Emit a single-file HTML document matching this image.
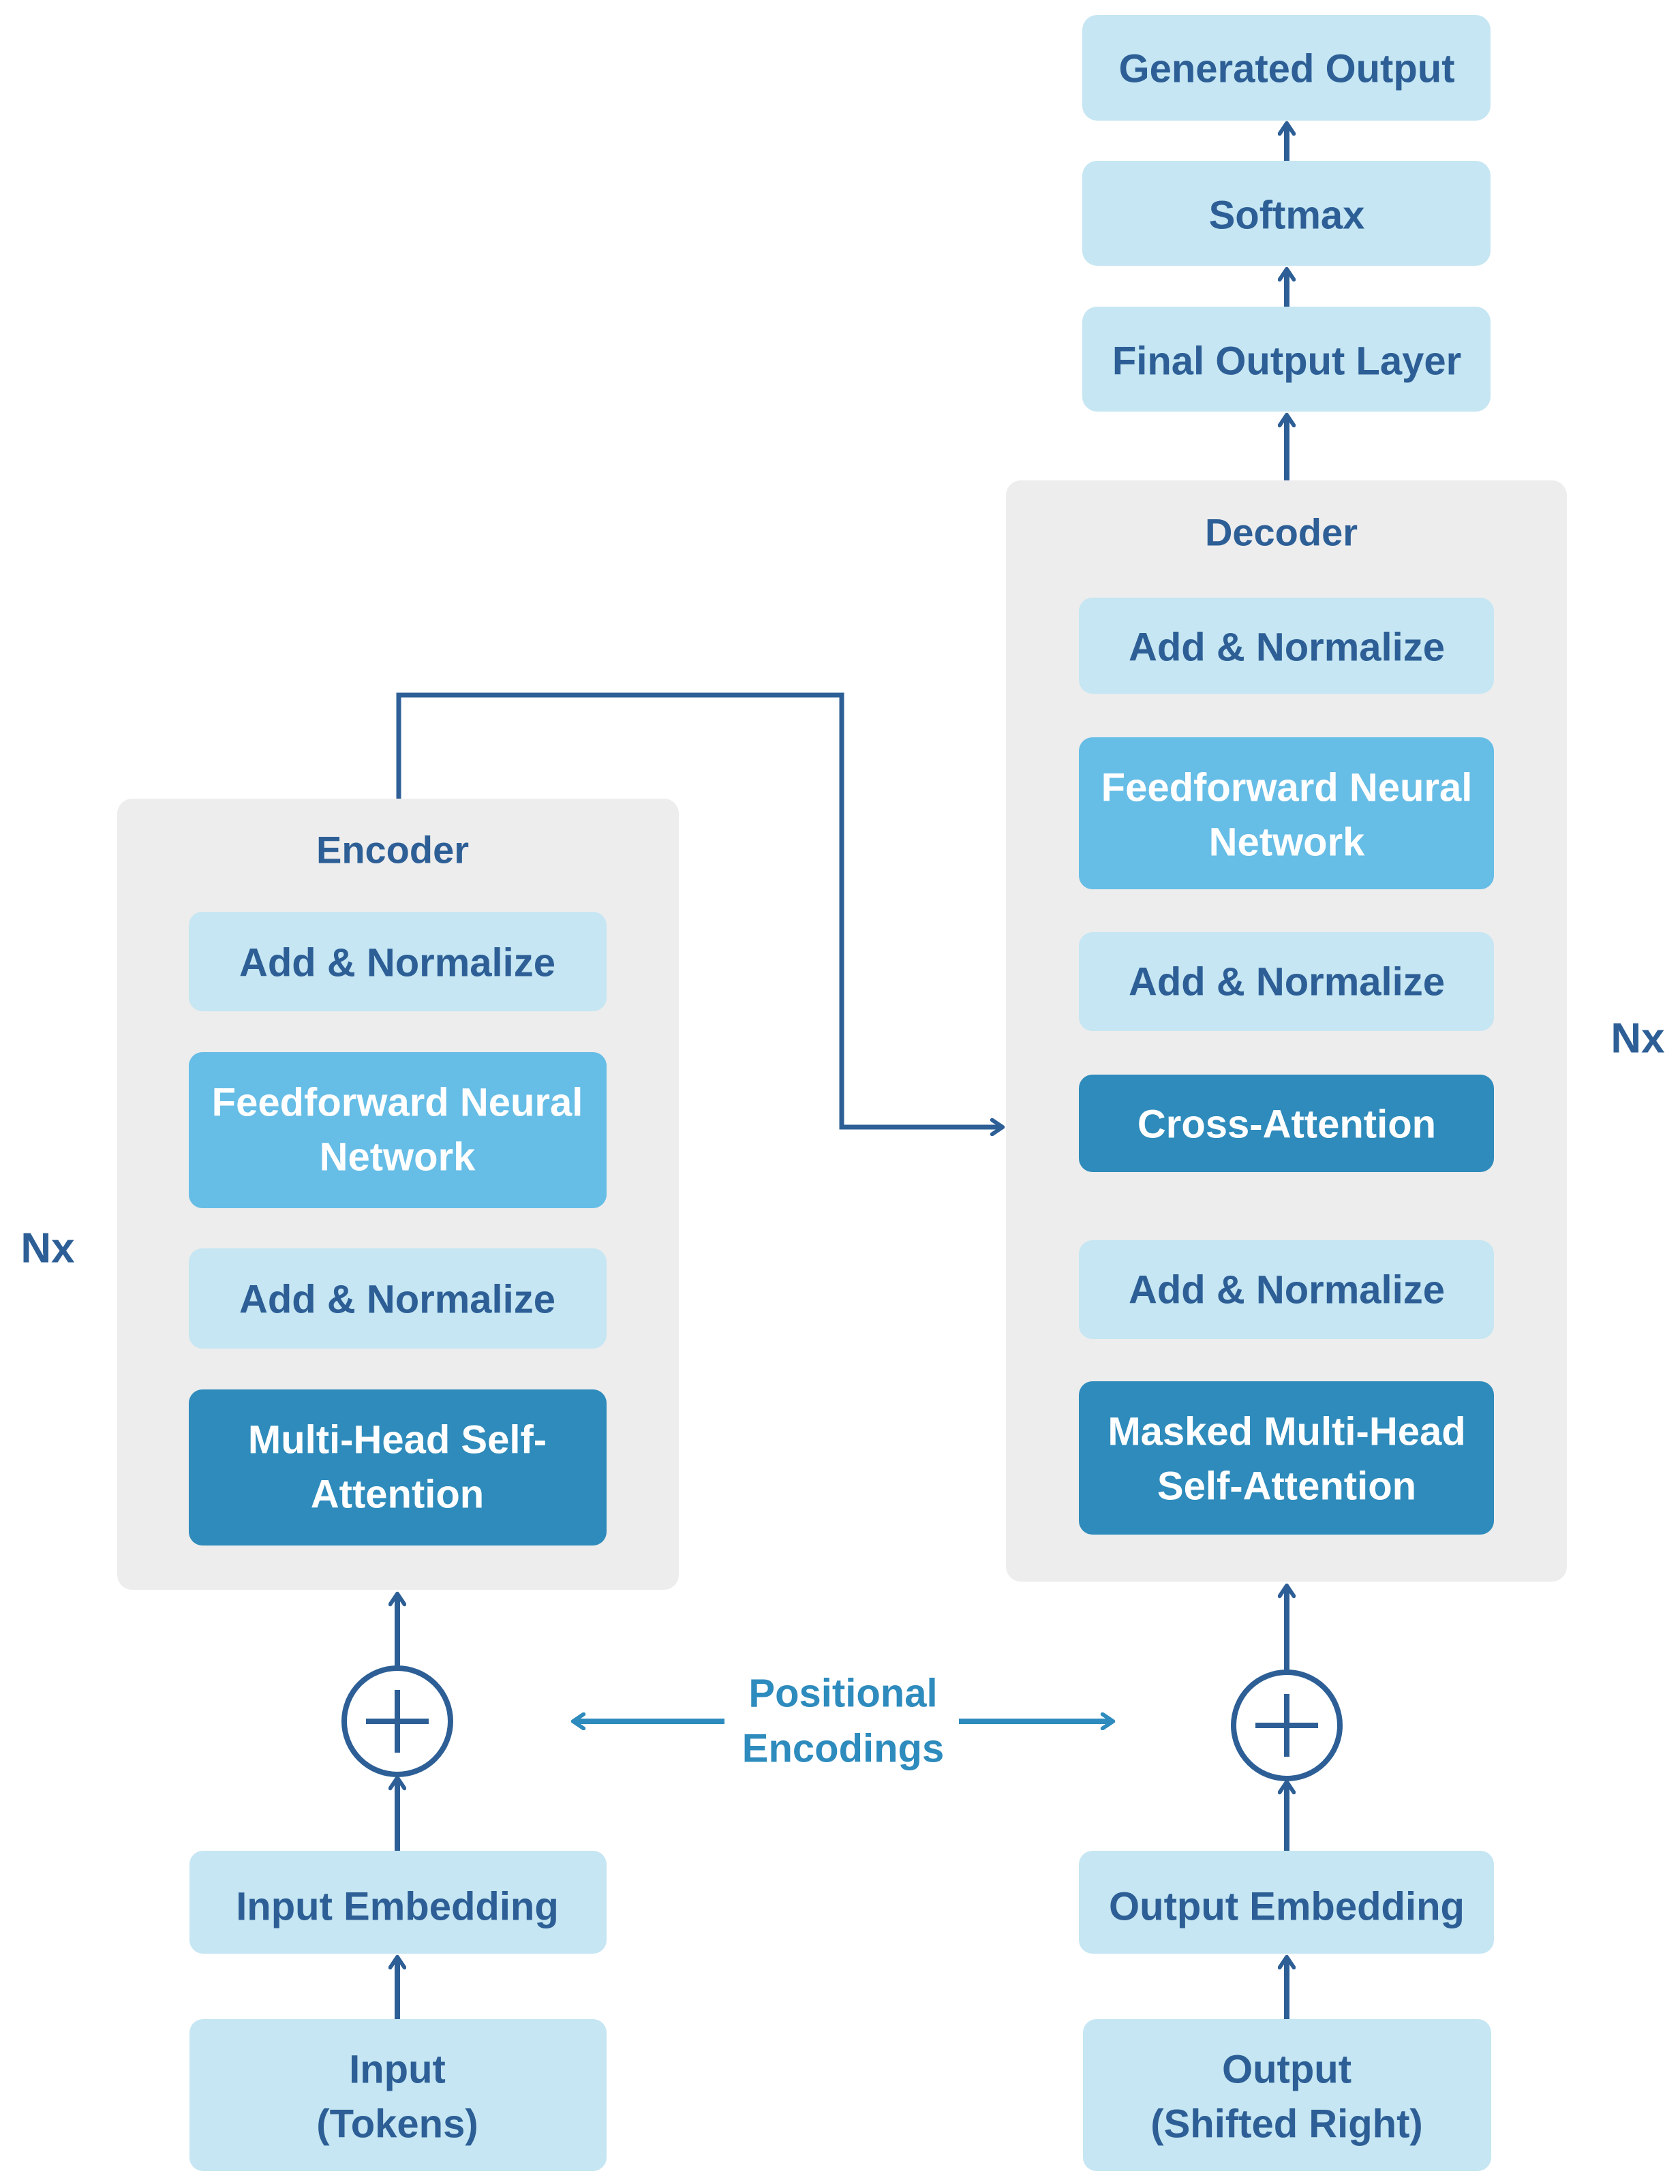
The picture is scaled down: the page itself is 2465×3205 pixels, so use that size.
<!DOCTYPE html>
<html><head><meta charset="utf-8"><style>
html,body{margin:0;padding:0;background:#fff}
svg{display:block}
text{font-family:"Liberation Sans",sans-serif;font-weight:bold;text-anchor:middle;dominant-baseline:central}
.d{fill:#2d5f96}.w{fill:#fff}
</style></head><body>
<svg width="2465" height="3205" viewBox="0 0 2465 3205" xmlns="http://www.w3.org/2000/svg">
<defs>
<marker id="ah" viewBox="0 0 20 20" refX="14" refY="10" markerWidth="26" markerHeight="26" markerUnits="userSpaceOnUse" orient="auto">
<path d="M3,2 L15,10 L3,18" fill="none" stroke="#2d5f96" stroke-width="4.5" stroke-linecap="round" stroke-linejoin="round"/></marker>
<marker id="ah2" viewBox="0 0 20 20" refX="14" refY="10" markerWidth="26" markerHeight="26" markerUnits="userSpaceOnUse" orient="auto">
<path d="M3,2 L15,10 L3,18" fill="none" stroke="#2e8bbd" stroke-width="4.5" stroke-linecap="round" stroke-linejoin="round"/></marker>
</defs>
<rect x="172" y="1172" width="824" height="1161" rx="22" fill="#ededed"/>
<rect x="1476" y="705" width="823" height="1616" rx="22" fill="#ededed"/>
<text x="576" y="1247" class="d" font-size="56">Encoder</text>
<text x="1880" y="781" class="d" font-size="56">Decoder</text>
<rect x="1588" y="22" width="599" height="155" rx="22" fill="#c5e6f2"/>
<text x="1888" y="101" class="d" font-size="58">Generated Output</text>
<rect x="1588" y="236" width="599" height="154" rx="22" fill="#c5e6f2"/>
<text x="1888" y="316" class="d" font-size="58">Softmax</text>
<rect x="1588" y="450" width="599" height="154" rx="22" fill="#c5e6f2"/>
<text x="1888" y="530" class="d" font-size="58">Final Output Layer</text>
<g stroke="#2d5f96" stroke-width="8" fill="none">
<line x1="1888" y1="236" x2="1888" y2="182" marker-end="url(#ah)"/>
<line x1="1888" y1="450" x2="1888" y2="396" marker-end="url(#ah)"/>
<line x1="1888" y1="705" x2="1888" y2="610" marker-end="url(#ah)"/>
</g>
<rect x="277" y="1338" width="613" height="146" rx="20" fill="#c5e6f2"/>
<text x="583" y="1413" class="d" font-size="58">Add &amp; Normalize</text>
<rect x="277" y="1544" width="613" height="229" rx="20" fill="#66bde6"/>
<text x="583" y="1618" class="w" font-size="58">Feedforward Neural</text>
<text x="583" y="1698" class="w" font-size="58">Network</text>
<rect x="277" y="1832" width="613" height="147" rx="20" fill="#c5e6f2"/>
<text x="583" y="1907" class="d" font-size="58">Add &amp; Normalize</text>
<rect x="277" y="2039" width="613" height="229" rx="20" fill="#2e8bbb"/>
<text x="583" y="2113" class="w" font-size="58">Multi-Head Self-</text>
<text x="583" y="2193" class="w" font-size="58">Attention</text>
<rect x="1583" y="877" width="609" height="141" rx="20" fill="#c5e6f2"/>
<text x="1888" y="950" class="d" font-size="58">Add &amp; Normalize</text>
<rect x="1583" y="1082" width="609" height="223" rx="20" fill="#66bde6"/>
<text x="1888" y="1156" class="w" font-size="58">Feedforward Neural</text>
<text x="1888" y="1236" class="w" font-size="58">Network</text>
<rect x="1583" y="1368" width="609" height="145" rx="20" fill="#c5e6f2"/>
<text x="1888" y="1441" class="d" font-size="58">Add &amp; Normalize</text>
<rect x="1583" y="1577" width="609" height="143" rx="20" fill="#2e8bbb"/>
<text x="1888" y="1650" class="w" font-size="58">Cross-Attention</text>
<rect x="1583" y="1820" width="609" height="145" rx="20" fill="#c5e6f2"/>
<text x="1888" y="1893" class="d" font-size="58">Add &amp; Normalize</text>
<rect x="1583" y="2027" width="609" height="225" rx="20" fill="#2e8bbb"/>
<text x="1888" y="2101" class="w" font-size="58">Masked Multi-Head</text>
<text x="1888" y="2181" class="w" font-size="58">Self-Attention</text>
<text x="70" y="1832" class="d" font-size="62">Nx</text>
<text x="2403" y="1524" class="d" font-size="62">Nx</text>
<polyline points="585,1172 585,1020 1235,1020 1235,1654 1470,1654" fill="none" stroke="#2d5f96" stroke-width="7" marker-end="url(#ah)"/>
<g stroke="#2d5f96" stroke-width="8" fill="none">
<circle cx="583" cy="2526" r="78"/>
<line x1="583" y1="2480" x2="583" y2="2572"/>
<line x1="537" y1="2526" x2="629" y2="2526"/>
<line x1="583" y1="2448" x2="583" y2="2340" marker-end="url(#ah)"/>
<line x1="583" y1="2716" x2="583" y2="2610" marker-end="url(#ah)"/>
<line x1="583" y1="2963" x2="583" y2="2873" marker-end="url(#ah)"/>
<circle cx="1888" cy="2532" r="78"/>
<line x1="1888" y1="2486" x2="1888" y2="2578"/>
<line x1="1842" y1="2532" x2="1934" y2="2532"/>
<line x1="1888" y1="2454" x2="1888" y2="2328" marker-end="url(#ah)"/>
<line x1="1888" y1="2716" x2="1888" y2="2616" marker-end="url(#ah)"/>
<line x1="1888" y1="2963" x2="1888" y2="2873" marker-end="url(#ah)"/>
</g>
<rect x="278" y="2716" width="612" height="151" rx="20" fill="#c5e6f2"/>
<text x="583" y="2798" class="d" font-size="58">Input Embedding</text>
<rect x="278" y="2963" width="612" height="223" rx="20" fill="#c5e6f2"/>
<text x="583" y="3037" class="d" font-size="58">Input</text>
<text x="583" y="3117" class="d" font-size="58">(Tokens)</text>
<rect x="1583" y="2716" width="609" height="151" rx="20" fill="#c5e6f2"/>
<text x="1888" y="2798" class="d" font-size="58">Output Embedding</text>
<rect x="1589" y="2963" width="599" height="223" rx="20" fill="#c5e6f2"/>
<text x="1888" y="3037" class="d" font-size="58">Output</text>
<text x="1888" y="3117" class="d" font-size="58">(Shifted Right)</text>
<text x="1237" y="2485" font-size="58" fill="#2e8bbd">Positional</text>
<text x="1237" y="2566" font-size="58" fill="#2e8bbd">Encodings</text>
<g stroke="#2e8bbd" stroke-width="8" fill="none">
<line x1="1063" y1="2526" x2="842" y2="2526" marker-end="url(#ah2)"/>
<line x1="1407" y1="2526" x2="1632" y2="2526" marker-end="url(#ah2)"/>
</g>
</svg>
</body></html>
